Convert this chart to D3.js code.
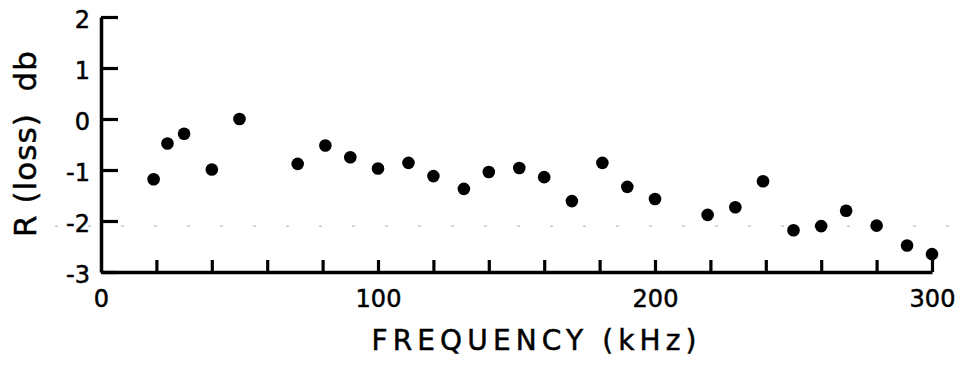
<!DOCTYPE html>
<html>
<head>
<meta charset="utf-8">
<script src="https://cdn.jsdelivr.net/npm/d3@7"></script>
<style>
  body { margin: 0; background: #fff; }
  text { font-family: "DejaVu Sans", "Liberation Sans", Arial, sans-serif; fill: #000; }
</style>
</head>
<body>
<div id="chart"></div>
<script>
// frequency (kHz) and loss R (db)
var freq = [19, 24, 30, 40, 50, 71, 81, 90, 100, 111, 120, 131, 140, 151,
            160, 170, 181, 190, 200, 219, 229, 239, 250, 260, 269, 280, 291, 300];
var loss = [-1.18, -0.48, -0.29, -0.99, 0.0, -0.88, -0.52, -0.75, -0.97, -0.86, -1.12, -1.37, -1.04, -0.96,
            -1.14, -1.61, -0.86, -1.33, -1.57, -1.88, -1.73, -1.22, -2.18, -2.10, -1.80, -2.09, -2.48, -2.65];

var xTicks = [20, 40, 60, 80, 100, 120, 140, 160, 180, 200, 220, 240, 260, 280, 300];
var xLabels = [0, 100, 200, 300];
var yTicks = [-3, -2, -1, 0, 1, 2];
var refLine = -2.1;

var width = 963, height = 365;

var svg = d3.select("#chart")
  .append("svg")
    .attr("width", width)
    .attr("height", height);

var x = d3.scaleLinear().domain([0, 300]).range([101, 932]);
var y = d3.scaleLinear().domain([-3, 2]).range([272, 17]);

// faint dotted reference line
svg.append("line")
  .attr("x1", 55).attr("x2", 962)
  .attr("y1", y(refLine)).attr("y2", y(refLine))
  .attr("stroke", "#aaa")
  .attr("stroke-width", 1)
  .attr("stroke-dasharray", "3,30");

// y axis, ticks pointing inward
var gy = svg.append("g")
  .attr("transform", "translate(" + x(0) + ",0)")
  .call(d3.axisLeft(y).tickValues(yTicks).tickSizeInner(-17).tickSizeOuter(0).tickPadding(11));
gy.select(".domain").attr("stroke-width", 3.5);
gy.selectAll(".tick line").attr("stroke-width", 3.2);
gy.selectAll(".tick text")
  .style("font-size", "24px")
  .attr("dy", "0.45em")
  .attr("stroke", "#000").attr("stroke-width", 0.5)
  .text(function(d) { return d < 0 ? "-" + Math.abs(d) : d; });

// x axis ticks
var gx = svg.append("g")
  .attr("transform", "translate(0," + y(-3) + ")")
  .call(d3.axisBottom(x).tickValues(xTicks).tickSizeInner(-12).tickSizeOuter(0).tickFormat(""));
gx.select(".domain").attr("stroke-width", 3.5);
gx.selectAll(".tick line").attr("stroke-width", 3.2);

// x axis labels
var gxl = svg.append("g")
  .attr("transform", "translate(0," + y(-3) + ")")
  .call(d3.axisBottom(x).tickValues(xLabels).tickSize(0).tickPadding(18));
gxl.select(".domain").remove();
gxl.selectAll(".tick text")
  .style("font-size", "24px")
  .attr("stroke", "#000").attr("stroke-width", 0.5);

// points
svg.selectAll("circle.pt")
  .data(freq)
  .enter()
  .append("circle")
    .attr("class", "pt")
    .attr("cx", function(d) { return x(d); })
    .attr("cy", function(d, i) { return y(loss[i]); })
    .attr("r", 6.3)
    .attr("fill", "#000");

// axis titles
svg.append("text")
  .attr("x", 534)
  .attr("y", 350)
  .attr("text-anchor", "middle")
  .attr("textLength", 325)
  .attr("lengthAdjust", "spacing")
  .attr("stroke", "#000").attr("stroke-width", 0.5)
  .style("font-size", "28px")
  .text("FREQUENCY (kHz)");

svg.append("text")
  .attr("transform", "translate(36,144) rotate(-90)")
  .attr("text-anchor", "middle")
  .attr("textLength", 186)
  .attr("lengthAdjust", "spacing")
  .attr("stroke", "#000").attr("stroke-width", 0.5)
  .style("font-size", "31px")
  .style("white-space", "pre")
  .text("R (loss)  db");
</script>
</body>
</html>
